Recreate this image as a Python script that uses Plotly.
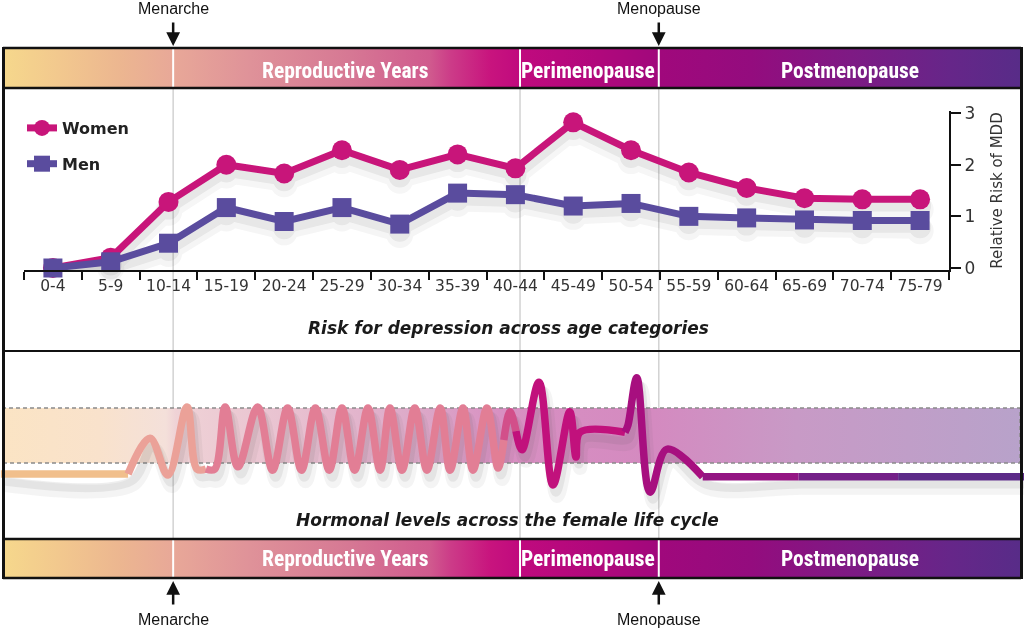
import plotly.graph_objects as go

W, H = 1024, 630

# ---------------- data ----------------
age_groups = ["0-4", "5-9", "10-14", "15-19", "20-24", "25-29", "30-34", "35-39",
              "40-44", "45-49", "50-54", "55-59", "60-64", "65-69", "70-74", "75-79"]
women_risk = [0.0, 0.20, 1.28, 2.00, 1.83, 2.28, 1.90, 2.20, 1.93, 2.82, 2.28, 1.85, 1.55, 1.35, 1.33, 1.33]
men_risk = [0.0, 0.12, 0.48, 1.17, 0.90, 1.17, 0.85, 1.45, 1.42, 1.20, 1.25, 1.00, 0.97, 0.93, 0.92, 0.92]
risk_ticks = [0, 1, 2, 3]

# life-cycle milestones (age, years)
menarche_age = 12.9
perimenopause_age = 42.9
menopause_age = 54.9
phase_names = ["Reproductive Years", "Perimenopause", "Postmenopause"]
phase_label_age = [27.8, 48.8, 71.4]

# schematic hormone curve: key points (age, relative level)
hormone_age = [-2.0, 9.0, 10.9, 12.45, 14.1, 14.96, 15.74, 16.5, 17.4, 18.5, 20.2, 21.5, 22.8, 24.0,
               25.2, 26.4, 27.5, 28.6, 29.75, 30.8, 31.65, 32.7, 33.8, 34.85, 36.0, 36.85, 37.97,
               38.83, 40.04, 41.0, 41.5, 42.03, 42.55, 43.07, 44.54, 45.75, 47.2, 47.74, 48.09,
               51.98, 52.24, 53.0, 54.14, 55.6, 58.7, 67.0, 75.6, 86.5]
hormone_level = [0.80, 0.80, 1.45, 0.78, 2.02, 0.89, 0.89, 0.89, 2.02, 0.93, 2.02, 0.87, 2.0, 0.87,
                 2.0, 0.87, 2.0, 0.87, 2.0, 0.87, 2.0, 0.87, 2.0, 0.87, 2.0, 0.87, 2.0,
                 0.87, 2.0, 0.91, 1.42, 1.93, 1.58, 1.24, 2.47, 0.60, 1.93, 1.11, 1.56,
                 1.56, 1.69, 2.55, 0.47, 1.25, 0.75, 0.75, 0.75, 0.75]
normal_range = [1.0, 2.0]
# colour pieces of the hormone curve: (first index, last index, colour, shape)
hormone_pieces = [(0, 1, "#f1bf8c", "linear"), (1, 6, "#eba198", "spline"),
                  (6, 30, "#e27e95", "spline"), (30, 32, "#d24f8a", "spline"),
                  (32, 39, "#c1117c", "spline"), (39, 44, "#a70f7f", "spline"),
                  (44, 45, "#941583", "linear"), (45, 46, "#742088", "linear"),
                  (46, 47, "#5c2a88", "linear")]

band_scale = [[0.0, "#f6d88c"], [0.056, "#f2c88e"], [0.115, "#ecb690"], [0.167, "#e8a898"],
              [0.243, "#df9299"], [0.341, "#d67894"], [0.42, "#d05a8e"], [0.44, "#cc3c88"],
              [0.479, "#c8147e"], [0.508, "#c00a7e"], [0.587, "#b0087c"], [0.646, "#a0087c"],
              [0.735, "#940c7e"], [0.833, "#7e1a84"], [0.931, "#662689"], [1.0, "#582c88"]]
normal_scale = [[0.0, "#fbe4c4"], [0.095, "#f9e2cc"], [0.16, "#f4e0da"], [0.17, "#efd2d6"],
                [0.29, "#e8c0d0"], [0.41, "#dca8c8"], [0.49, "#d890c2"], [0.64, "#d48ac0"],
                [0.78, "#c89ac6"], [1.0, "#b8a2ca"]]

WOMEN_C = "#c8157a"
MEN_C = "#5a4c9e"
FONT = "'DejaVu Sans', sans-serif"
BAND_FONT = "'Roboto Condensed', Roboto, sans-serif"
LABEL_FONT = "'Liberation Sans', Arial, sans-serif"

# pixel helpers for layout placement
def py(p):
    return 1 - p / H

def px(p):
    return p / W

px_per_year = 925 / 80.0
age_lo = -24 / px_per_year
age_hi = 1000 / px_per_year
frame_l = (3 - 24) / px_per_year
frame_r = (1020 - 24) / px_per_year

fig = go.Figure()

# ---------------- phase bands ----------------
for yax in ["y3", "y4"]:
    fig.add_trace(go.Scatter(
        x=[frame_l, frame_r, frame_r, frame_l, frame_l], y=[0, 0, 1, 1, 0],
        xaxis="x2", yaxis=yax, mode="lines", line=dict(width=0), fill="toself",
        fillgradient=dict(type="horizontal", colorscale=band_scale),
        hoverinfo="skip", showlegend=False))

# ---------------- hormone panel ----------------
fig.add_trace(go.Scatter(
    x=[frame_l, frame_r, frame_r, frame_l, frame_l],
    y=[normal_range[0], normal_range[0], normal_range[1], normal_range[1], normal_range[0]],
    xaxis="x2", yaxis="y2", mode="lines",
    line=dict(color="#8a8a8a", width=1.5, dash="4px,3px"), fill="toself",
    fillgradient=dict(type="horizontal", colorscale=normal_scale),
    hoverinfo="skip", showlegend=False))

for dx, dy, wd, op in [(0.35, 0.20, 14, 0.06), (0.25, 0.13, 9, 0.09)]:
    fig.add_trace(go.Scatter(
        x=[a + dx for a in hormone_age], y=[v - dy for v in hormone_level],
        xaxis="x2", yaxis="y2", mode="lines",
        line=dict(color="#505050", width=wd, shape="spline"), opacity=op,
        hoverinfo="skip", showlegend=False, cliponaxis=False))

for i0, i1, col, shp in hormone_pieces:
    fig.add_trace(go.Scatter(
        x=hormone_age[i0:i1 + 1], y=hormone_level[i0:i1 + 1],
        xaxis="x2", yaxis="y2", mode="lines",
        line=dict(color=col, width=7.5, shape=shp),
        hoverinfo="skip", showlegend=False, cliponaxis=False))

# ---------------- risk chart ----------------
for vals in [women_risk, men_risk]:
    for dy, wd, ms, op in [(0.20, 16, 27, 0.05), (0.13, 11, 22, 0.08)]:
        fig.add_trace(go.Scatter(
            x=age_groups, y=[v - dy for v in vals], mode="lines+markers",
            line=dict(color="#404040", width=wd), marker=dict(size=ms, color="#404040"),
            opacity=op, hoverinfo="skip", showlegend=False, cliponaxis=False))

fig.add_trace(go.Scatter(
    x=age_groups, y=women_risk, name="Women", mode="lines+markers",
    line=dict(color=WOMEN_C, width=7), marker=dict(symbol="circle", size=20, color=WOMEN_C),
    legendgroup="w", legendrank=1, cliponaxis=False))
fig.add_trace(go.Scatter(
    x=age_groups, y=men_risk, name="Men", mode="lines+markers",
    line=dict(color=MEN_C, width=7), marker=dict(symbol="square", size=19, color=MEN_C),
    legendgroup="m", legendrank=2, cliponaxis=False))

# ---------------- shapes ----------------
shapes = []
for a in [menarche_age, perimenopause_age, menopause_age]:
    shapes.append(dict(type="line", xref="x2", yref="paper", x0=a, x1=a, y0=py(539), y1=py(88),
                       line=dict(color="#d2d2d2", width=1.5), layer="below"))
    for t, b in [(48, 88), (539, 578)]:
        shapes.append(dict(type="line", xref="x2", yref="paper", x0=a, x1=a, y0=py(b), y1=py(t),
                           line=dict(color="white", width=2), layer="above"))
for yy, w in [(48, 2.5), (88, 2.5), (351, 2), (539, 2.5), (578, 2.5)]:
    shapes.append(dict(type="line", xref="paper", yref="paper", x0=px(3), x1=px(1021),
                       y0=py(yy), y1=py(yy), line=dict(color="#111", width=w), layer="above"))
for xx in [3.5, 1021.5]:
    shapes.append(dict(type="line", xref="paper", yref="paper", x0=px(xx), x1=px(xx),
                       y0=py(579), y1=py(47), line=dict(color="#111", width=3), layer="above"))

# ---------------- annotations ----------------
ann = []
for name, a in zip(phase_names, phase_label_age):
    for yax, yy in [("y3", 0.44), ("y4", 0.5)]:
        ann.append(dict(x=a, y=yy, xref="x2", yref=yax, text=name, showarrow=False,
                        xanchor="center", yanchor="middle",
                        font=dict(family=BAND_FONT, size=21.5, color="white", weight="bold")))
for name, a in [("Menarche", menarche_age), ("Menopause", menopause_age)]:
    for yy in [9, 619]:
        ann.append(dict(x=a, y=py(yy), xref="x2", yref="paper", text=name, showarrow=False,
                        xanchor="center", yanchor="middle",
                        font=dict(family=LABEL_FONT, size=16, color="#111")))
    ann.append(dict(x=a, y=py(46), xref="x2", yref="paper", text="", showarrow=True,
                    ax=0, ay=-25, arrowhead=2, arrowsize=1.1, arrowwidth=2.5, arrowcolor="#111"))
    ann.append(dict(x=a, y=py(581), xref="x2", yref="paper", text="", showarrow=True,
                    ax=0, ay=25, arrowhead=2, arrowsize=1.1, arrowwidth=2.5, arrowcolor="#111"))
ann.append(dict(x=px(508), y=py(328), xref="paper", yref="paper", showarrow=False,
                xanchor="center", yanchor="middle",
                text="Risk for depression across age categories",
                font=dict(family=FONT, size=17, color="#1a1a1a", weight="bold", style="italic")))
ann.append(dict(x=px(507), y=py(520), xref="paper", yref="paper", showarrow=False,
                xanchor="center", yanchor="middle",
                text="Hormonal levels across the female life cycle",
                font=dict(family=FONT, size=17, color="#1a1a1a", weight="bold", style="italic")))

fig.update_layout(
    width=W, height=H, margin=dict(l=0, r=0, t=0, b=0, pad=0),
    paper_bgcolor="white", plot_bgcolor="rgba(0,0,0,0)",
    font=dict(family=FONT, color="#333"),
    showlegend=True,
    legend=dict(x=px(22), y=py(111), xanchor="left", yanchor="top", bgcolor="rgba(0,0,0,0)",
                font=dict(family=FONT, size=16, color="#222", weight="bold"), tracegroupgap=12),
    xaxis=dict(type="category", domain=[px(24), px(949)], range=[-0.5, 15.5], anchor="y",
               tickson="boundaries", ticks="outside", ticklen=8, tickwidth=2, tickcolor="#111",
               showline=True, linecolor="#111", linewidth=2, showgrid=False, automargin=False,
               tickfont=dict(family=FONT, size=15.5, color="#333"), fixedrange=True),
    yaxis=dict(domain=[py(270), py(111)], range=[-2 / 51.7, 3.04], anchor="x", side="right",
               tickvals=risk_ticks, ticks="outside", ticklen=10, tickwidth=2, tickcolor="#111",
               showline=True, linecolor="#111", linewidth=2, showgrid=False, zeroline=False,
               automargin=False, tickfont=dict(family=FONT, size=17, color="#333"),
               title=dict(text="Relative Risk of MDD", font=dict(family=FONT, size=15, color="#333"),
                          standoff=17)),
    xaxis2=dict(domain=[0, 1], range=[age_lo, age_hi], anchor="y2", visible=False, automargin=False),
    yaxis2=dict(domain=[py(539), py(351)], range=[1 - 76 / 55, 2 + 57 / 55], anchor="x2",
                visible=False, automargin=False),
    yaxis3=dict(domain=[py(88), py(48)], range=[0, 1], anchor="x2", visible=False, automargin=False),
    yaxis4=dict(domain=[py(578), py(539)], range=[0, 1], anchor="x2", visible=False, automargin=False),
    shapes=shapes, annotations=ann,
)

fig.write_html("out.html")
